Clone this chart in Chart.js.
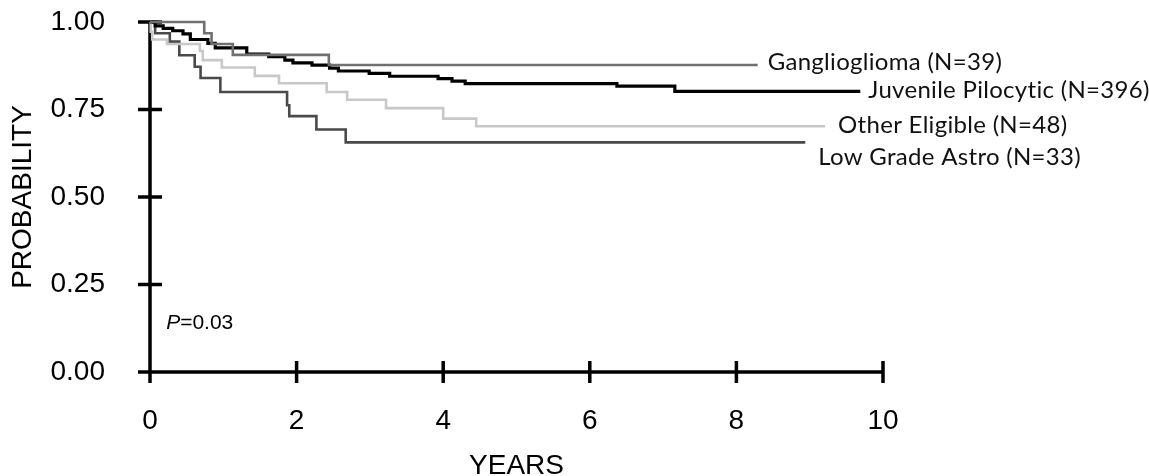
<!DOCTYPE html>
<html>
<head>
<meta charset="utf-8">
<script src="https://cdn.jsdelivr.net/npm/chart.js@4.4.1/dist/chart.umd.min.js"></script>
<style>
  html, body { margin: 0; padding: 0; background: #fff; }
</style>
</head>
<body>
<canvas id="kmChart" width="1149" height="476"></canvas>
<script>
// Kaplan-Meier curves by histology, years since diagnosis
const yearTicks = [0, 2, 4, 6, 8, 10];
const probTicks = [0, 0.25, 0.5, 0.75, 1];

const gangYears = [0, 0.74, 0.84, 1.13, 2.44, 8.29];
const gangProb  = [1.000, 0.968, 0.937, 0.906, 0.877, 0.877];

const jpaYears = [0, 0.07, 0.18, 0.31, 0.45, 0.55, 0.79, 0.89, 1.32, 1.62, 1.84, 1.95, 2.21, 2.45, 2.57, 2.99, 3.27, 3.93, 4.12, 4.30, 6.37, 7.16, 9.69];
const jpaProb  = [1.000, 0.989, 0.982, 0.975, 0.966, 0.950, 0.939, 0.926, 0.908, 0.901, 0.891, 0.883, 0.877, 0.868, 0.860, 0.853, 0.845, 0.838, 0.831, 0.824, 0.817, 0.802, 0.802];

const otherYears = [0, 0.01, 0.03, 0.23, 0.68, 0.72, 0.98, 1.43, 1.76, 2.41, 2.69, 3.22, 4.00, 4.45, 9.21];
const otherProb  = [1.000, 0.972, 0.950, 0.937, 0.917, 0.891, 0.870, 0.846, 0.825, 0.800, 0.778, 0.754, 0.724, 0.702, 0.702];

const lgaYears = [0, 0.07, 0.27, 0.40, 0.61, 0.69, 0.96, 1.87, 1.90, 2.27, 2.67, 8.94];
const lgaProb  = [1.000, 0.968, 0.944, 0.905, 0.872, 0.840, 0.800, 0.762, 0.731, 0.693, 0.656, 0.656];

const groupNames = ['Ganglioglioma (N=39)', 'Juvenile Pilocytic (N=396)', 'Other Eligible (N=48)', 'Low Grade Astro (N=33)'];
const pValue = '0.03';

const axisFont = 'Liberation Sans, Arial, sans-serif';
const labelFont = 'Lato, sans-serif';

function toPoints(xs, ys) {
    return xs.map((t, i) => ({ x: t, y: ys[i] }));
}

function curve(name, xs, ys, color, width, endLabel) {
    return {
        label: name,
        data: toPoints(xs, ys),
        borderColor: color,
        borderWidth: width,
        stepped: 'before',
        pointRadius: 0,
        fill: false,
        clip: false,
        // offset of the group name from the end of its curve
        endLabel: endLabel
    };
}

const datasets = [
    curve(groupNames[0], gangYears, gangProb, '#707070', 2.6, { dx: 10, dy: -3 }),
    curve(groupNames[1], jpaYears, jpaProb, '#000000', 3.2, { dx: 8, dy: -1 }),
    curve(groupNames[2], otherYears, otherProb, '#c8c8c8', 2.6, { dx: 13, dy: -1 }),
    curve(groupNames[3], lgaYears, lgaProb, '#4a4a4a', 2.6, { dx: 13, dy: 15 })
];

// axis lines with tick marks that cross the axis
const crossAxes = {
    id: 'crossAxes',
    beforeDatasetsDraw(chart) {
        const { ctx, scales: { x, y } } = chart;
        const x0 = x.getPixelForValue(0);
        const y0 = y.getPixelForValue(0);
        ctx.save();
        ctx.strokeStyle = '#000';
        ctx.lineWidth = 3.5;
        ctx.beginPath();
        ctx.moveTo(x0, y.getPixelForValue(1) - 1);
        ctx.lineTo(x0, y0 + 9);
        ctx.moveTo(x0 - 12, y0);
        ctx.lineTo(x.getPixelForValue(10), y0);
        probTicks.forEach(v => {
            const py = y.getPixelForValue(v);
            ctx.moveTo(x0 - 12, py);
            ctx.lineTo(x0 + 12, py);
        });
        yearTicks.forEach(t => {
            const px = x.getPixelForValue(t);
            ctx.moveTo(px, y0 - 11);
            ctx.lineTo(px, y0 + 11);
        });
        ctx.stroke();
        ctx.restore();
    }
};

// group names at the end of each curve, plus the log-rank p value
const curveNotes = {
    id: 'curveNotes',
    afterDatasetsDraw(chart) {
        const { ctx, scales: { x, y } } = chart;
        ctx.save();
        ctx.fillStyle = '#111';
        ctx.font = '24px ' + labelFont;
        ctx.letterSpacing = '0.3px';
        ctx.textBaseline = 'middle';
        ctx.textAlign = 'left';
        chart.data.datasets.forEach(ds => {
            const last = ds.data[ds.data.length - 1];
            const px = x.getPixelForValue(last.x) + ds.endLabel.dx;
            const py = y.getPixelForValue(last.y) + ds.endLabel.dy;
            ctx.fillText(ds.label, px, py);
        });

        ctx.letterSpacing = '0px';
        const px = x.getPixelForValue(0.22);
        const py = y.getPixelForValue(0.14);
        ctx.fillStyle = '#000';
        ctx.font = 'italic 21px ' + axisFont;
        ctx.fillText('P', px, py);
        const w = ctx.measureText('P').width;
        ctx.font = '21px ' + axisFont;
        ctx.fillText('=' + pValue, px + w, py);
        ctx.restore();
    }
};

function noEdgePadding(s) {
    s.paddingTop = 0;
    s.paddingBottom = 0;
    s.paddingLeft = 0;
    s.paddingRight = 0;
}

const ctx = document.getElementById('kmChart').getContext('2d');
const chart = new Chart(ctx, {
    type: 'line',
    data: { datasets: datasets },
    options: {
        responsive: false,
        animation: false,
        layout: { padding: { left: 0, right: 266, top: 22, bottom: 0 } },
        plugins: {
            legend: { display: false },
            tooltip: { enabled: false }
        },
        scales: {
            x: {
                type: 'linear',
                min: 0,
                max: 10,
                grid: { display: false },
                border: { display: false },
                afterBuildTicks: s => { s.ticks = yearTicks.map(v => ({ value: v })); },
                afterFit: s => { s.height = 104; noEdgePadding(s); },
                ticks: {
                    color: '#000',
                    padding: 24,
                    maxRotation: 0,
                    font: { family: axisFont, size: 28 }
                },
                title: {
                    display: true,
                    text: 'YEARS',
                    color: '#000',
                    padding: { top: 0, bottom: -7 },
                    font: { family: axisFont, size: 28 }
                }
            },
            y: {
                type: 'linear',
                min: 0,
                max: 1,
                grid: { display: false },
                border: { display: false },
                afterBuildTicks: s => { s.ticks = probTicks.map(v => ({ value: v })); },
                afterFit: s => { s.width = 150; noEdgePadding(s); },
                ticks: {
                    color: '#000',
                    padding: 37,
                    font: { family: axisFont, size: 28 },
                    callback: v => v.toFixed(2)
                },
                title: {
                    display: true,
                    text: 'PROBABILITY',
                    color: '#000',
                    padding: { top: 6, bottom: 0 },
                    font: { family: axisFont, size: 28 }
                }
            }
        }
    },
    plugins: [crossAxes, curveNotes]
});
</script>
</body>
</html>
